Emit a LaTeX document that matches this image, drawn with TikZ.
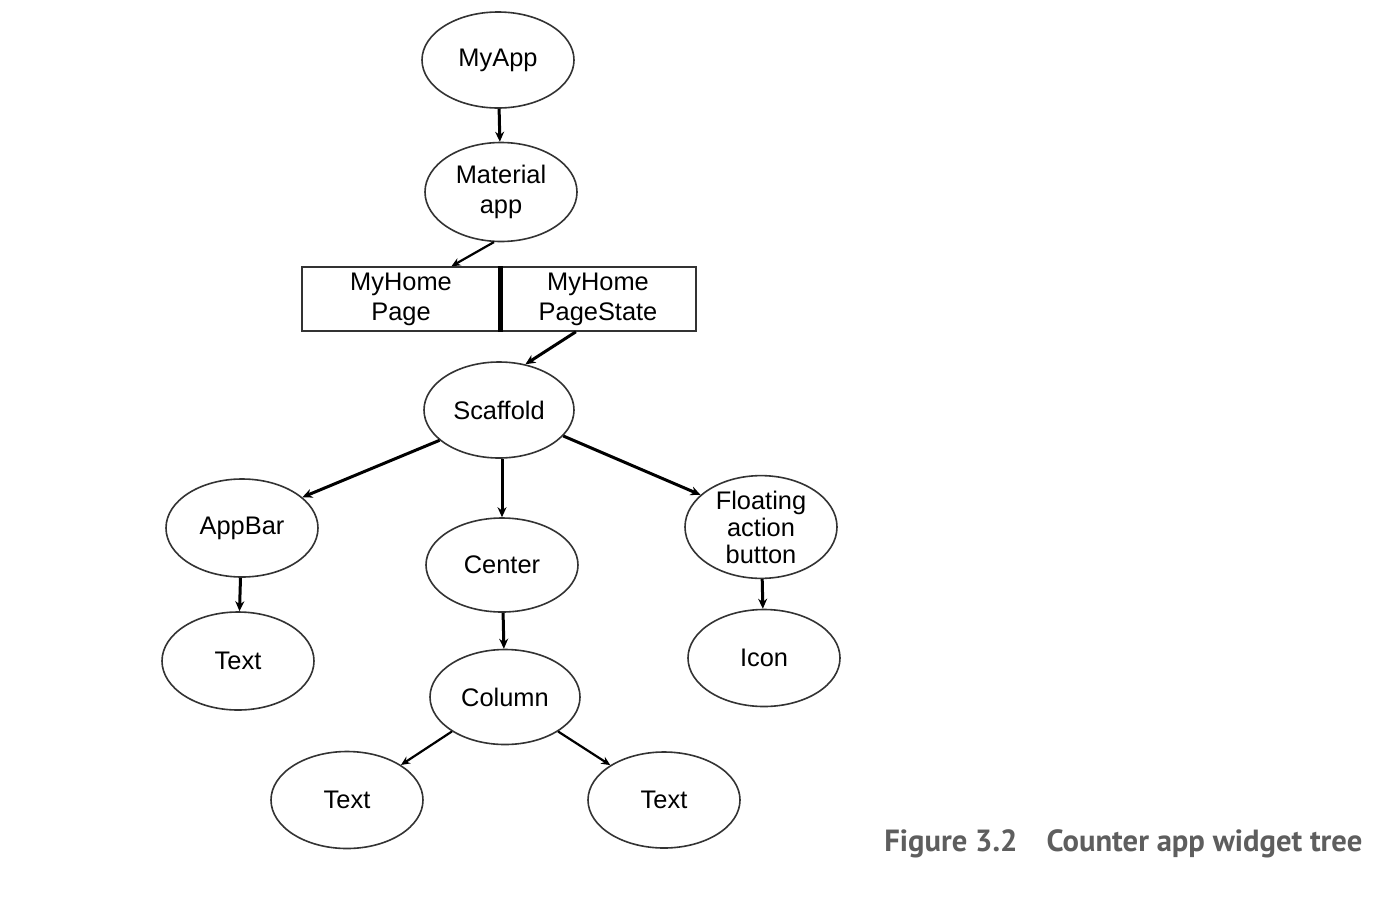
\documentclass[tikz,border=0pt]{standalone}
\usepackage{fontspec}
\setmainfont{Liberation Sans}
\newfontfamily\capfont{PT Sans}
\usetikzlibrary{shapes.geometric,arrows.meta}
\definecolor{outline}{HTML}{333333}
\definecolor{capgrey}{HTML}{5E5E5E}
\begin{document}
\begin{tikzpicture}[x=0.5pt,y=-0.5pt,
  every node/.style={font=\fontsize{12.7}{15}\selectfont},
  wnode/.style={ellipse,draw=outline,line width=0.8pt,inner sep=0pt,align=center,minimum width=76pt,minimum height=48pt},
  wbox/.style={rectangle,draw=outline,line width=0.75pt,inner sep=0pt,align=center,minimum width=99pt,minimum height=32pt},
  arr/.style={draw=black,line width=1.5pt,-{Stealth[length=5pt,width=4.5pt]}},
  arrthin/.style={draw=black,line width=1.1pt,-{Stealth[length=4.5pt,width=4pt]}}
]
\useasboundingbox (0,0) rectangle (1392,900);
\fill[white] (0,0) rectangle (1392,900);

\node[wnode] (myapp) at (498,60) {MyApp};
\node[wnode,minimum height=49.5pt] (mat) at (501,192) {Material\\app};
\node[wbox] (page) at (401,299) {MyHome\\Page};
\node[wbox,minimum width=98pt] (state) at (598,299) {MyHome\\PageState};
\draw[line width=2.6pt] (page.north east) -- (page.south east);
\node[wnode,minimum width=75pt] (scaf) at (499,410) {Scaffold};
\node[wnode,minimum height=49pt] (appbar) at (242,528) {AppBar};
\node[wnode,minimum height=47pt] (center) at (502,565) {Center};
\node[wnode,minimum height=47.5pt,font=\fontsize{12.7}{13.5}\selectfont] (fab) at (761,527) {Floating\\action\\button};
\node[wnode,minimum height=49pt] (text1) at (238,661) {Text};
\node[wnode,minimum height=48.5pt] (icon) at (764,658) {Icon};
\node[wnode,minimum width=75pt,minimum height=47.5pt] (column) at (505,697) {Column};
\node[wnode,minimum height=48.5pt] (textl) at (347,800) {Text};
\node[wnode] (textr) at (664,800) {Text};

\draw[arr] (myapp) -- (mat);
\draw[arrthin] (mat.262) -- (page.33);
\draw[arr] (state.236) -- (scaf.60);
\draw[arr] (scaf.207) -- (appbar.27);
\draw[arr] (scaf.south -| center.north) -- (center.north);
\draw[arr] (scaf.338) -- (fab.152);
\draw[arr] (appbar) -- (text1);
\draw[arr] (center) -- (column);
\draw[arr] (fab) -- (icon);
\draw[arrthin] (column.213) -- (textl.33);
\draw[arrthin] (column.327) -- (textr.147);

\node[anchor=base west,inner sep=0pt,text=capgrey] (cap) at (884,851)
  {\resizebox{239pt}{!}{\capfont\bfseries\fontsize{14}{16}\selectfont Figure 3.2\hspace{0.95em}Counter app widget tree}};
\end{tikzpicture}
\end{document}
